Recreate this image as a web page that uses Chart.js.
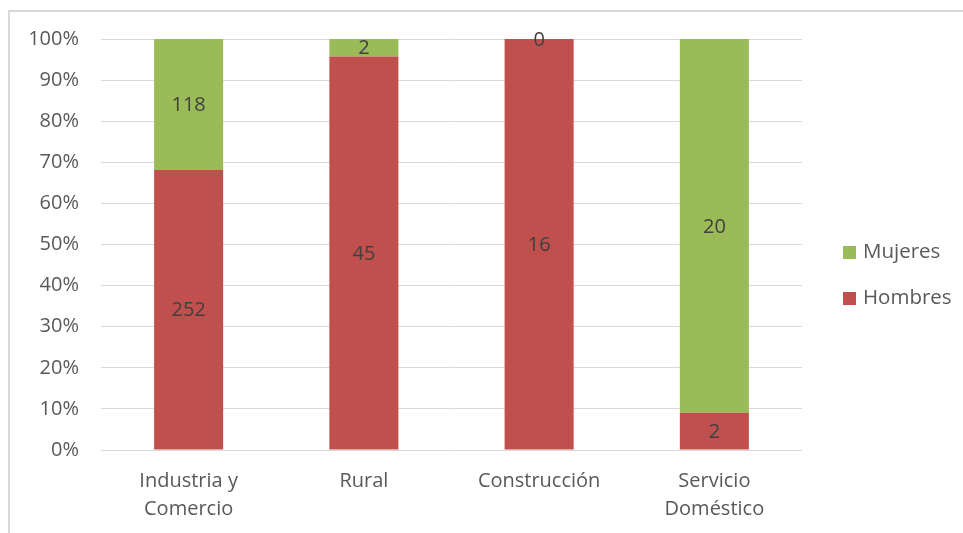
<!DOCTYPE html>
<html lang="es">
<head>
<meta charset="utf-8">
<title>Hombres y Mujeres por rama</title>
<script src="https://cdn.jsdelivr.net/npm/chart.js@4/dist/chart.umd.min.js"></script>
<style>
  html, body { margin: 0; padding: 0; background: #ffffff; }
  #wrap { position: relative; width: 963px; height: 533px; overflow: hidden; }
  canvas { position: absolute; left: 0; top: 0; }
  #frame { position: absolute; left: 8px; top: 10px; width: 970px; height: 540px;
           border-top: 2px solid #d9d9d9; border-left: 2px solid #d9d9d9;
           pointer-events: none; z-index: 2; }
</style>
</head>
<body>
<div id="wrap">
  <canvas id="chart" width="963" height="533"></canvas>
  <div id="frame"></div>
</div>
<script>
// Categories and counts per series
const categories = [['Industria y', 'Comercio'], 'Rural', 'Construcción', ['Servicio', 'Doméstico']];
const hombres = [252, 45, 16, 2];
const mujeres = [118, 2, 0, 20];
const seriesNames = ['Hombres', 'Mujeres'];
const seriesColors = ['#C0504D', '#9BBB59'];

// Each bar shows its share of the category total (100% stacked)
const totals = hombres.map((h, i) => h + mujeres[i]);
const pct = arr => arr.map((v, i) => totals[i] ? (v / totals[i]) * 100 : 0);

const FONT = '"Open Sans", "DejaVu Sans", sans-serif';

// Writes the raw count in the middle of every segment
const segmentLabels = {
  id: 'segmentLabels',
  afterDatasetsDraw(chart) {
    const ctx = chart.ctx;
    ctx.save();
    ctx.font = '20px ' + FONT;
    ctx.fillStyle = '#404040';
    ctx.textAlign = 'center';
    ctx.textBaseline = 'middle';
    chart.data.datasets.forEach((ds, di) => {
      const meta = chart.getDatasetMeta(di);
      meta.data.forEach((el, i) => {
        const p = el.getProps(['x', 'y', 'base'], true);
        ctx.fillText(String(ds.counts[i]), p.x, (p.y + p.base) / 2 + 1);
      });
    });
    ctx.restore();
  }
};

// Vertical legend to the right of the plot, top series first
const sideLegend = {
  id: 'sideLegend',
  afterDraw(chart) {
    const ctx = chart.ctx;
    const area = chart.chartArea;
    const items = chart.data.datasets.map(d => ({ label: d.label, color: d.backgroundColor })).reverse();
    const gap = 46;
    const midY = (area.top + area.bottom) / 2 + 30.5;
    const startY = midY - gap * (items.length - 1) / 2;
    const boxX = area.right + 41;
    ctx.save();
    ctx.font = '20.5px ' + FONT;
    ctx.textBaseline = 'middle';
    ctx.textAlign = 'left';
    items.forEach((it, k) => {
      const cy = startY + k * gap;
      ctx.fillStyle = it.color;
      ctx.fillRect(boxX, cy - 6, 13, 13);
      ctx.fillStyle = '#595959';
      ctx.fillText(it.label, boxX + 20, cy);
    });
    ctx.restore();
  }
};

new Chart(document.getElementById('chart'), {
  type: 'bar',
  data: {
    labels: categories,
    datasets: [
      { label: seriesNames[0], data: pct(hombres), counts: hombres, backgroundColor: seriesColors[0] },
      { label: seriesNames[1], data: pct(mujeres), counts: mujeres, backgroundColor: seriesColors[1] }
    ]
  },
  options: {
    responsive: false,
    animation: false,
    devicePixelRatio: 1,
    layout: { padding: { left: 0, top: 39, right: 161, bottom: 0 } },
    datasets: { bar: { barPercentage: 0.394, categoryPercentage: 1, borderWidth: 0 } },
    plugins: {
      legend: { display: false },
      tooltip: { enabled: false },
      title: { display: false }
    },
    scales: {
      x: {
        stacked: true,
        grid: { display: false, drawTicks: false },
        border: { display: false },
        ticks: {
          color: '#595959',
          font: { family: FONT, size: 20, lineHeight: 1.4 },
          padding: 17,
          maxRotation: 0,
          autoSkip: false
        },
        afterFit(scale) { scale.height = 83; }
      },
      y: {
        stacked: true,
        min: 0,
        max: 100,
        grid: { color: '#d9d9d9', lineWidth: 1, drawTicks: false },
        border: { display: false },
        ticks: {
          stepSize: 10,
          color: '#595959',
          font: { family: FONT, size: 20 },
          padding: 22,
          callback: v => v + '%'
        },
        afterFit(scale) { scale.width = 101; }
      }
    }
  },
  plugins: [segmentLabels, sideLegend]
});
</script>
</body>
</html>
